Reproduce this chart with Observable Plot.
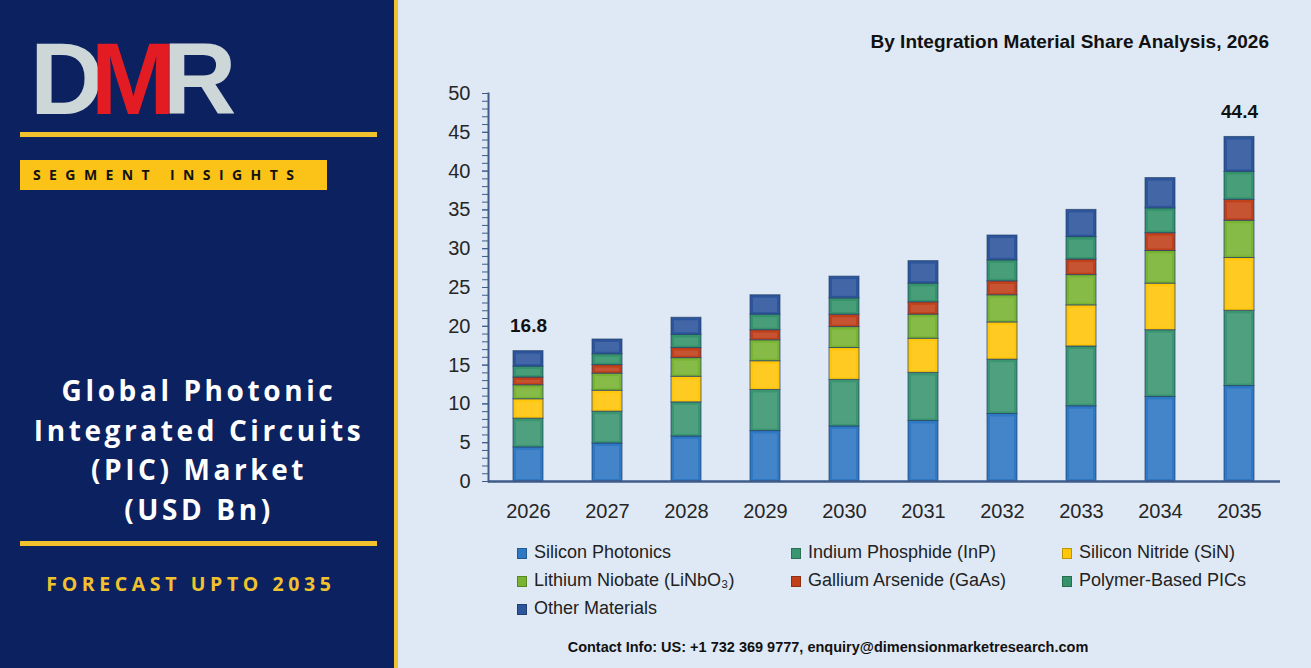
<!DOCTYPE html>
<html>
<head>
<meta charset="utf-8">
<script src="https://cdn.jsdelivr.net/npm/d3@7"></script>
<script src="https://cdn.jsdelivr.net/npm/@observablehq/plot@0.6"></script>
<style>
  html, body { margin: 0; padding: 0; }
  body { width: 1311px; height: 668px; overflow: hidden; position: relative; background: #dfe9f5; font-family: "Liberation Sans", Arial, sans-serif; }
  .left { position: absolute; left: 0; top: 0; width: 394px; height: 668px; background: #0c2160; }
  .vbar { position: absolute; left: 394px; top: 0; width: 4px; height: 668px; background: #f2c12e; }
  .logo { position: absolute; left: 30px; top: 28px; font-family: "Liberation Sans", Arial, sans-serif; font-weight: bold; font-size: 102px; letter-spacing: -13px; line-height: 1; }
  .hline { position: absolute; left: 20px; width: 357px; height: 5px; background: #f2c12e; }
  .seg { position: absolute; left: 20px; top: 160px; width: 307px; height: 30px; background: #fbc218; color: #111; font-family: "Open Sans", sans-serif; font-weight: bold; font-size: 14px; letter-spacing: 8.4px; line-height: 30px; text-indent: 13px; }
  .ltitle { position: absolute; left: 0; top: 371px; width: 398px; text-align: center; color: #fff; font-family: "Open Sans", sans-serif; font-weight: bold; font-size: 28px; letter-spacing: 3.6px; line-height: 39.5px; }
  .forecast { position: absolute; left: 0; top: 570px; width: 382px; text-align: center; color: #f2c12e; font-family: "Open Sans", sans-serif; font-weight: bold; font-size: 19.5px; letter-spacing: 4.6px; }
  .ctitle { position: absolute; right: 42px; top: 31px; font-weight: bold; font-size: 19px; color: #111; }
  #chart { position: absolute; left: 400px; top: 60px; }
  .legend { position: absolute; left: 517px; top: 542px; font-size: 18px; color: #222; }
  .legend .item { position: absolute; white-space: nowrap; }
  .legend .sw { display: inline-block; width: 10px; height: 11px; margin-right: 7px; vertical-align: -1px; border: 1px solid rgba(0,0,0,0.25); box-sizing: border-box; }
  .footer { position: absolute; left: 0; width: 1311px; padding-left: 345px; box-sizing: border-box; top: 639px; text-align: center; font-weight: bold; font-size: 14.5px; color: #111; }
</style>
</head>
<body>
<div class="left"></div>
<div class="vbar"></div>
<div class="logo"><span style="color:#cdd7d7">D</span><span style="color:#e31b23">M</span><span style="color:#cdd7d7">R</span></div>
<div class="hline" style="top:132px"></div>
<div class="seg">SEGMENT INSIGHTS</div>
<div class="ltitle">Global Photonic<br>Integrated Circuits<br>(PIC) Market<br>(USD Bn)</div>
<div class="hline" style="top:541px"></div>
<div class="forecast">FORECAST UPTO 2035</div>
<div class="ctitle">By Integration Material Share Analysis, 2026</div>
<div id="chart"></div>
<div class="legend" id="legend"></div>
<div class="footer">Contact Info: US: +1 732 369 9777, enquiry@dimensionmarketresearch.com</div>
<script>
const years = ["2026","2027","2028","2029","2030","2031","2032","2033","2034","2035"];
const seriesNames = ["Silicon Photonics","Indium Phosphide (InP)","Silicon Nitride (SiN)","Lithium Niobate (LiNbO₃)","Gallium Arsenide (GaAs)","Polymer-Based PICs","Other Materials"];
const siliconPhotonics = [4.4, 4.9, 5.8, 6.5, 7.1, 7.8, 8.7, 9.7, 10.9, 12.3];
const indiumPhosphide  = [3.7, 4.1, 4.4, 5.3, 6.0, 6.2, 7.0, 7.7, 8.6, 9.7];
const siliconNitride   = [2.5, 2.7, 3.3, 3.7, 4.1, 4.4, 4.8, 5.3, 6.0, 6.8];
const lithiumNiobate   = [1.8, 2.2, 2.4, 2.7, 2.7, 3.1, 3.5, 3.9, 4.2, 4.8];
const galliumArsenide  = [1.0, 1.1, 1.3, 1.3, 1.6, 1.6, 1.8, 2.0, 2.3, 2.7];
const polymerBased     = [1.4, 1.4, 1.7, 2.0, 2.1, 2.4, 2.7, 2.9, 3.2, 3.6];
const otherMaterials   = [2.0, 1.9, 2.2, 2.5, 2.8, 2.9, 3.2, 3.5, 3.9, 4.5];
const labeledYears = ["2026", "2035"];
const yMajorTicks = [0,5,10,15,20,25,30,35,40,45,50];
const yMinorTicks = d3.range(0, 51, 1);
const colors = ["#2f78c4","#3a9670","#ffc60a","#78b432","#c0401a","#34936a","#2d559c"];

const seriesValues = [siliconPhotonics, indiumPhosphide, siliconNitride, lithiumNiobate, galliumArsenide, polymerBased, otherMaterials];
const data = [];
seriesNames.forEach((s, i) => years.forEach((y, j) => data.push({year: y, series: s, value: seriesValues[i][j]})));
const totals = years.map((y, j) => ({year: y, total: d3.sum(seriesValues, v => v[j])}));

const chart = Plot.plot({
  width: 900, height: 470,
  marginLeft: 88, marginRight: 20, marginTop: 33, marginBottom: 49,
  style: {background: "transparent", fontFamily: "Liberation Sans, Arial, sans-serif", color: "#262626"},
  x: {domain: years, paddingInner: 0.62, paddingOuter: 0.31, axis: null},
  y: {domain: [0, 50], axis: null},
  color: {domain: seriesNames, range: colors},
  marks: [
    Plot.barY(data, {x: "year", y: "value", fill: "series", stroke: "#24406a", strokeWidth: 1, strokeOpacity: 0.7, order: seriesNames}),
    Plot.barY(data, {x: "year", y: "value", z: "series", fill: "white", fillOpacity: 0.1, insetLeft: 3, insetRight: 3, insetTop: 3, insetBottom: 2, order: seriesNames}),
    Plot.axisY(yMinorTicks, {tickSize: 6, stroke: "#3e5b8a", tickFormat: () => ""}),
    Plot.axisY(yMajorTicks, {tickSize: 6, tickPadding: 12, stroke: "#3e5b8a", fontSize: 20, fill: "#262626", label: null}),
    Plot.axisX({tickSize: 0, tickPadding: 22, fontSize: 20, fill: "#262626", label: null}),
    Plot.frame({anchor: "left", stroke: "#3e5b8a", strokeWidth: 2}),
    Plot.ruleY([0], {stroke: "#3e5b8a", strokeWidth: 2.5}),
    Plot.text(totals.filter(d => labeledYears.includes(d.year)), {x: "year", y: "total", text: d => d.total.toFixed(1), dy: -25, fontSize: 19, fontWeight: "bold", fill: "#111"})
  ]
});
document.getElementById("chart").appendChild(chart);

const legendPos = [[0,0],[274,0],[545,0],[0,28],[274,28],[545,28],[0,56]];
const legend = document.getElementById("legend");
seriesNames.forEach((s, i) => {
  const it = document.createElement("div");
  it.className = "item";
  it.style.left = legendPos[i][0] + "px";
  it.style.top = legendPos[i][1] + "px";
  it.innerHTML = `<span class="sw" style="background:${colors[i]}"></span>${s}`;
  legend.appendChild(it);
});
</script>
</body>
</html>
